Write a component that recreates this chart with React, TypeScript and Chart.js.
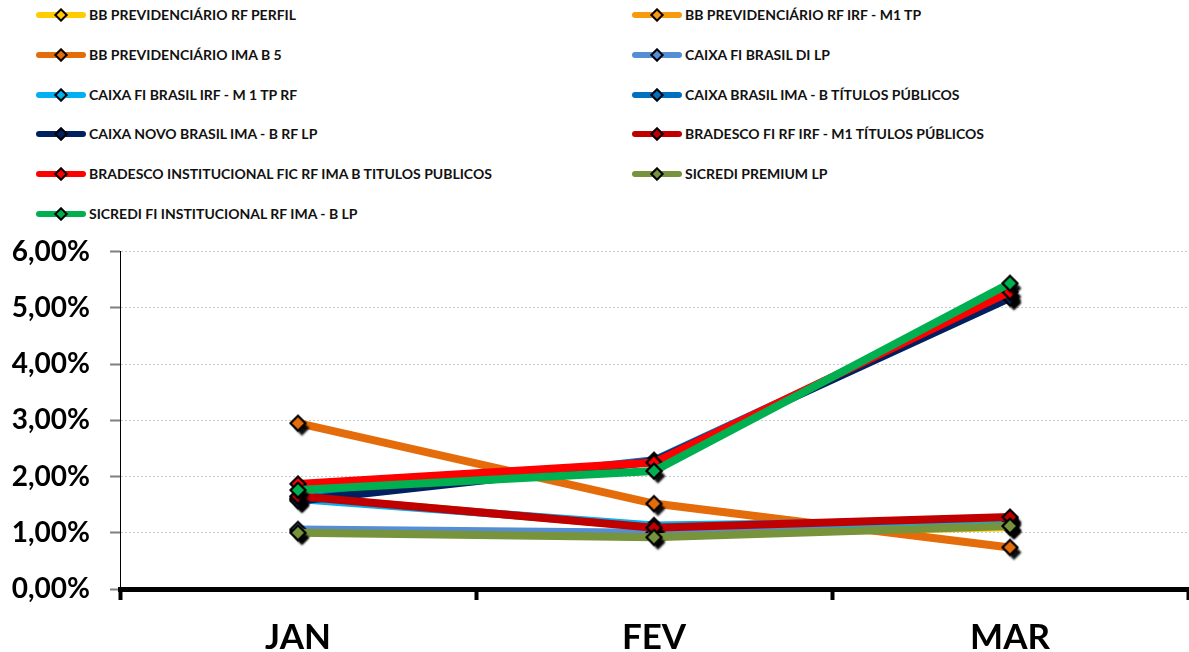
import React, { useEffect, useRef } from 'react';
import { Chart, registerables } from 'chart.js';

Chart.register(...registerables);

const categories = ['JAN', 'FEV', 'MAR'];

const seriesNames = [
  'BB PREVIDENCIÁRIO RF PERFIL',
  'BB PREVIDENCIÁRIO RF IRF - M1 TP',
  'BB PREVIDENCIÁRIO IMA B 5',
  'CAIXA FI BRASIL DI LP',
  'CAIXA FI BRASIL IRF - M 1 TP RF',
  'CAIXA BRASIL IMA - B TÍTULOS PÚBLICOS',
  'CAIXA NOVO BRASIL IMA - B RF LP',
  'BRADESCO FI RF IRF - M1 TÍTULOS PÚBLICOS',
  'BRADESCO INSTITUCIONAL FIC RF IMA B TITULOS PUBLICOS',
  'SICREDI PREMIUM LP',
  'SICREDI FI INSTITUCIONAL RF IMA - B LP',
];

const seriesColors = [
  '#FFCC00',
  '#F79A0E',
  '#E46C0A',
  '#558ED5',
  '#00B0F0',
  '#0070C0',
  '#002060',
  '#C00000',
  '#FF0000',
  '#77933C',
  '#00B050',
];

const bbPerfil = [1.03, 0.97, 1.1];
const bbIrfM1 = [1.64, 1.1, 1.25];
const bbImaB5 = [2.95, 1.52, 0.74];
const caixaDiLp = [1.06, 1.0, 1.13];
const caixaIrfM1 = [1.6, 1.13, 1.22];
const caixaImaBTp = [1.6, 2.29, 5.22];
const caixaNovoBrasil = [1.57, 2.27, 5.18];
const bradescoIrfM1 = [1.65, 1.09, 1.28];
const bradescoImaB = [1.87, 2.25, 5.29];
const sicrediPremium = [1.0, 0.92, 1.12];
const sicrediImaB = [1.76, 2.1, 5.44];

const seriesValues = [
  bbPerfil,
  bbIrfM1,
  bbImaB5,
  caixaDiLp,
  caixaIrfM1,
  caixaImaBTp,
  caixaNovoBrasil,
  bradescoIrfM1,
  bradescoImaB,
  sicrediPremium,
  sicrediImaB,
];

const yMin = 0;
const yMax = 6;
const yStep = 1;

const FONT = 'Lato, "Open Sans", sans-serif';

function makeMarker(fill: string): HTMLCanvasElement {
  const c = document.createElement('canvas');
  c.width = 36;
  c.height = 36;
  const ctx = c.getContext('2d') as CanvasRenderingContext2D;
  const cx = 18;
  const cy = 18;
  const r = 7.5;
  const path = () => {
    ctx.beginPath();
    ctx.moveTo(cx, cy - r);
    ctx.lineTo(cx + r, cy);
    ctx.lineTo(cx, cy + r);
    ctx.lineTo(cx - r, cy);
    ctx.closePath();
  };
  ctx.save();
  ctx.shadowColor = 'rgba(0,0,0,0.95)';
  ctx.shadowOffsetX = 4;
  ctx.shadowOffsetY = 5;
  ctx.shadowBlur = 2;
  path();
  ctx.fillStyle = '#000';
  ctx.fill();
  ctx.restore();
  path();
  ctx.fillStyle = fill;
  ctx.fill();
  ctx.lineWidth = 2.2;
  ctx.strokeStyle = '#000';
  ctx.lineJoin = 'miter';
  ctx.stroke();
  return c;
}

export default function App() {
  const canvasRef = useRef<HTMLCanvasElement | null>(null);

  useEffect(() => {
    document.body.style.margin = '0';
    const canvas = canvasRef.current;
    if (!canvas) return;
    const n = seriesValues.length;
    const chart = new Chart(canvas, {
      type: 'line',
      data: {
        labels: categories,
        datasets: seriesValues.map((vals, i) => ({
          label: seriesNames[i],
          data: vals,
          borderColor: seriesColors[i],
          backgroundColor: seriesColors[i],
          borderWidth: 8,
          tension: 0,
          fill: false,
          borderJoinStyle: 'round' as const,
          pointStyle: makeMarker(seriesColors[i]),
          pointRadius: 8,
          order: n - i,
        })),
      },
      options: {
        animation: false,
        responsive: false,
        devicePixelRatio: 1,
        layout: { padding: { top: 7, left: 0, right: 0, bottom: 0 } },
        plugins: {
          legend: { display: false },
          tooltip: { enabled: false },
        },
        scales: {
          x: {
            type: 'category',
            offset: true,
            grid: {
              offset: true,
              drawOnChartArea: false,
              drawTicks: true,
              tickLength: 11,
              tickWidth: 4,
              tickColor: '#000',
            },
            border: { display: true, color: '#000', width: 5 },
            ticks: {
              padding: 17,
              color: '#000',
              font: { family: FONT, size: 35, weight: 'bold' },
            },
            afterFit: (scale: any) => {
              scale.height = 63;
            },
          },
          y: {
            min: yMin,
            max: yMax,
            ticks: {
              stepSize: yStep,
              padding: 20,
              color: '#000',
              font: { family: FONT, size: 28, weight: 'bold' },
              callback: (v: any) => Number(v).toFixed(2).replace('.', ',') + '%',
            },
            grid: {
              color: '#c8c8c8',
              lineWidth: 1,
              drawTicks: true,
              tickLength: 10,
              tickColor: '#808080',
              tickWidth: 2,
              tickBorderDash: [1, 0],
            },
            border: { display: true, color: '#000', width: 1, dash: [2, 2] },
            afterFit: (scale: any) => {
              scale.width = 120;
            },
          },
        },
      },
    });
    return () => chart.destroy();
  }, []);

  const rowH = 39.8;
  return (
    <div style={{ position: 'relative', width: 1189, height: 652, background: '#fff', overflow: 'hidden' }}>
      {seriesNames.map((name, i) => {
        const col = i % 2;
        const row = Math.floor(i / 2);
        const lineX = col === 0 ? 36 : 632;
        const textX = col === 0 ? 89 : 685;
        const cy = 15 + row * rowH;
        return (
          <React.Fragment key={name}>
            <div
              style={{
                position: 'absolute',
                left: lineX,
                top: cy - 3,
                width: 50,
                height: 6,
                borderRadius: 3,
                background: seriesColors[i],
              }}
            />
            <div
              style={{
                position: 'absolute',
                left: lineX + 25 - 5,
                top: cy - 5,
                width: 6,
                height: 6,
                border: '2px solid #000',
                background: seriesColors[i],
                transform: 'rotate(45deg)',
              }}
            />
            <div
              style={{
                position: 'absolute',
                left: textX,
                top: cy - 9,
                height: 18,
                lineHeight: '18px',
                fontFamily: FONT,
                fontWeight: 700,
                fontSize: 14,
                color: '#111',
                whiteSpace: 'nowrap',
              }}
            >
              {name}
            </div>
          </React.Fragment>
        );
      })}
      <canvas
        ref={canvasRef}
        width={1204}
        height={437}
        style={{ position: 'absolute', left: 0, top: 215, width: 1204, height: 437 }}
      />
    </div>
  );
}
